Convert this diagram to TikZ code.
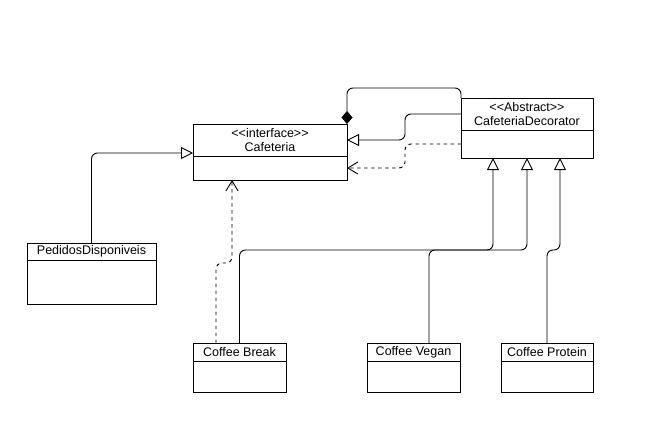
\documentclass[tikz,border=0pt]{standalone}
\usepackage{fontspec}
\setmainfont{Liberation Sans}
\usetikzlibrary{positioning, arrows.meta}

\begin{document}
\begin{tikzpicture}
        [
        x=1pt, y=-1pt, line width=0.9pt,
        every node/.style = {font=\fontsize{12.5}{14}\selectfont},
        hdr/.style = {draw, inner sep=0pt, outer sep=0pt, align=center, anchor=north west},
        body/.style = {draw, inner sep=0pt, outer sep=0pt},
        inh/.style = {-{Triangle[length=12pt, width=12pt, fill=white]}, rounded corners=6},
        dep/.style = {-{Straight Barb[length=10pt, width=12pt]}, dash pattern=on 3.5pt off 3.5pt, rounded corners=6},
        comp/.style = {-{Diamond[fill=black, length=13pt, width=11pt]}, rounded corners=6}
        ]
    \useasboundingbox (0,0) rectangle (664,426);

    \node[hdr, minimum width=154, minimum height=32] (caf) at (193,124) {<{}<interface>{}>\\Cafeteria};
    \node[body, minimum width=154, minimum height=24, below=0pt of caf] (cafb) {};
    \node[hdr, minimum width=132, minimum height=32] (dec) at (461,98) {<{}<Abstract>{}>\\CafeteriaDecorator};
    \node[body, minimum width=132, minimum height=28, below=0pt of dec] (decb) {};
    \node[hdr, minimum width=129, minimum height=17] (ped) at (27,243) {PedidosDisponiveis};
    \node[body, minimum width=129, minimum height=44, below=0pt of ped] (pedb) {};
    \node[hdr, minimum width=93, minimum height=18] (brk) at (193,343) {Coffee Break};
    \node[body, minimum width=93, minimum height=31, below=0pt of brk] (brkb) {};
    \node[hdr, minimum width=93, minimum height=18] (veg) at (367,343) {Coffee Vegan};
    \node[body, minimum width=93, minimum height=31, below=0pt of veg] (vegb) {};
    \node[hdr, minimum width=92, minimum height=18] (pro) at (501,343) {Coffee Protein};
    \node[body, minimum width=92, minimum height=31, below=0pt of pro] (prob) {};

    \draw[comp] (dec.north west) -- ++(0,-10) -| (caf.north east);
    \draw[inh] (dec.west) -- ++(-56,0) |- (caf.east);
    \draw[dep] (decb.west) -- ++(-56,0) |- (cafb.east);
    \draw[inh] (ped.north) |- (caf.west |- 0,153);
    \draw[dep] ([xshift=23pt]brk.north west) -- ++(0,-80) -| ([xshift=39pt]cafb.south west);
    \draw[inh] (brk.north) -- ++(0,-93) -| ([xshift=32pt]decb.south west);
    \draw[inh] ([xshift=62pt]veg.north west) -- ++(0,-93) -| ([xshift=66pt]decb.south west);
    \draw[inh] (pro.north) -- ++(0,-93) -| ([xshift=99pt]decb.south west);
\end{tikzpicture}
\end{document}
